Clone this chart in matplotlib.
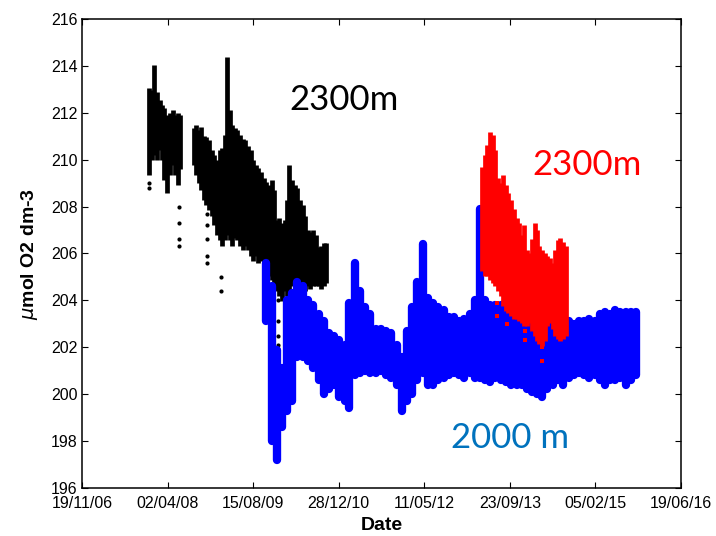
import numpy as np
import pandas as pd
import matplotlib
matplotlib.use('Agg')
import matplotlib.pyplot as plt
import matplotlib.dates as mdates

# 2300 m, first deployment: half-monthly envelope (top, bottom) in umol O2 dm-3
black_start = '2007-12-15'
black_top = [213.05, 212.97, 214.03, 212.88, 212.54, 212.32, 212.2, 211.9, 212.0, 212.1,
             211.9, 212.0, 211.9, np.nan, np.nan, np.nan, np.nan, 211.34, 211.47, 211.26,
             211.4, 211.0, 210.96, 210.83, 210.4, 210.2, 209.97, 210.4, 210.49, 211.04,
             214.38, 212.1, 211.47, 211.34, 211.26, 211.04, 210.9, 210.83, 210.6, 210.4,
             209.97, 209.76, 209.63, 209.46, 209.2, 209.03, 208.9, 209.12, 208.69, 207.41,
             207.5, 207.3, 207.41, 208.26, 209.76, 209.12, 208.9, 208.8, 208.26, 208.05,
             207.6, 206.98, 206.9, 206.98, 206.77, 206.26, 206.34, 206.43, 206.43]
black_bot = [209.33, 209.97, 210.19, 209.97, 210.4, 209.97, 209.12, 208.56, 209.33, 209.76,
             209.33, 208.9, 209.6, np.nan, np.nan, np.nan, np.nan, 209.76, 209.33, 208.99,
             208.7, 208.26, 208.05, 207.84, 207.6, 207.2, 206.77, 206.56, 206.34, 206.56,
             206.77, 206.56, 206.34, 206.64, 206.56, 206.34, 206.13, 206.34, 206.13, 205.9,
             205.7, 205.9, 205.6, 205.7, 205.5, 205.27, 205.06, 204.85, 204.6, 204.42,
             204.2, 203.99, 204.42, 204.2, 204.42, 204.6, 204.42, 204.6, 204.42, 204.6,
             204.42, 204.6, 204.5, 204.6, 204.6, 204.6, 204.5, 204.6, 204.76]
black_dot_dates = ['2007-12-15', '2007-12-15', '2008-06-08', '2008-06-08', '2008-06-08',
                   '2008-06-08', '2008-11-18', '2008-11-18', '2008-11-18', '2008-11-18',
                   '2008-11-18', '2009-02-08', '2009-02-08', '2010-01-07', '2010-01-07',
                   '2010-01-07', '2010-01-07']
black_dot_vals = [209.0, 208.8, 208.0, 207.3, 206.6, 206.3, 207.7, 207.2, 206.6, 205.9,
                  205.6, 205.0, 204.4, 204.0, 203.1, 202.5, 202.1]

# 2000 m: monthly envelope
blue_start = '2009-11-01'
blue_top = [205.6, 204.6, 201.9, 201.1, 204.0, 204.3, 204.8, 204.6, 204.0, 203.8,
            203.4, 203.1, 202.6, 202.5, 202.3, 202.1, 203.9, 205.6, 204.4, 203.7,
            203.4, 202.8, 202.8, 202.7, 202.6, 202.1, 201.6, 202.7, 203.7, 204.8,
            206.4, 204.1, 203.9, 203.7, 203.6, 203.3, 203.3, 203.1, 203.2, 203.4,
            204.0, 207.9, 204.0, 203.8, 203.8, 203.8, 204.0, 203.8, 203.6, 203.4,
            203.1, 203.2, 203.1, 203.4, 203.1, 203.2, 203.1, 203.2, 203.1, 203.0,
            203.1, 203.1, 203.2, 203.1, 203.4, 203.5, 203.4, 203.6, 203.5, 203.5,
            203.5, 203.5]
blue_bot = [203.1, 198.0, 197.2, 198.6, 199.3, 199.7, 201.6, 201.6, 201.4, 201.1,
            200.6, 200.0, 200.2, 200.4, 199.9, 199.7, 199.4, 200.8, 200.9, 201.0,
            200.9, 200.9, 201.0, 200.8, 200.7, 200.4, 199.3, 199.7, 200.0, 200.6,
            200.9, 200.4, 200.4, 200.6, 200.7, 200.8, 200.9, 200.8, 200.7, 200.9,
            200.7, 200.7, 200.6, 200.5, 200.7, 200.6, 200.5, 200.4, 200.4, 200.4,
            200.2, 200.1, 200.0, 199.9, 200.2, 200.4, 200.6, 200.4, 200.7, 200.8,
            200.9, 200.8, 200.7, 200.8, 200.6, 200.4, 200.6, 200.6, 200.7, 200.4,
            200.6, 200.8]

# 2300 m, second deployment: half-monthly envelope
red_start = '2013-04-15'
red_top = [209.68, 210.19, 210.62, 211.17, 211.04, 210.4, 209.2, 208.99, 209.33, 208.9,
           208.6, 208.26, 207.9, 207.5, 207.3, 206.77, 207.2, 206.13, 206.04, 206.6,
           207.3, 206.98, 206.34, 206.13, 206.0, 205.9, 205.8, 205.6, 206.13, 206.56,
           206.64, 206.47, 206.34]
red_bot = [205.27, 205.06, 205.06, 204.85, 204.76, 204.63, 204.42, 204.2, 203.78, 203.56,
           203.48, 203.35, 203.2, 203.2, 203.14, 203.05, 202.9, 202.9, 203.05, 202.7,
           202.5, 202.28, 202.15, 202.07, 202.28, 202.9, 203.05, 202.8, 202.5, 202.36,
           202.28, 202.36, 202.5]
red_dot_dates = ['2013-07-10', '2013-07-10', '2013-08-08', '2013-09-06', '2013-09-06',
                 '2013-12-20', '2013-12-20', '2014-03-30', '2014-03-30']
red_dot_vals = [203.9, 203.35, 204.4, 203.8, 203.0, 202.7, 202.3, 202.0, 201.4]

tick_start = '2006-11-19'
tick_step_days = 500
n_ticks = 8


def draw_band(ax, start, freq, top, bot, color, lw, cap):
    d = pd.date_range(start, periods=len(top), freq=freq)
    top = np.array(top)
    bot = np.array(bot)
    ok = ~np.isnan(top)
    lc = ax.vlines(d[ok].to_pydatetime(), bot[ok], top[ok], colors=color, linewidth=lw)
    lc.set_capstyle(cap)


fig = plt.figure(figsize=(7.16, 5.36), dpi=100)
ax = fig.add_axes([0.1145, 0.0896, 0.8366, 0.875])

draw_band(ax, black_start, 'SMS', black_top, black_bot, 'black', 3.4, 'butt')
ax.plot(pd.to_datetime(black_dot_dates), black_dot_vals, 'o', color='black', ms=3, mew=0)
draw_band(ax, blue_start, 'MS', blue_top, blue_bot, (0, 0, 1), 6.0, 'round')
draw_band(ax, red_start, 'SMS', red_top, red_bot, (1, 0, 0), 3.4, 'butt')
ax.plot(pd.to_datetime(red_dot_dates), red_dot_vals, 's', color='red', ms=3.5, mew=0)

ticks = pd.date_range(tick_start, periods=n_ticks, freq=f'{tick_step_days}D')
ax.set_xlim(ticks[0], ticks[-1])
ax.set_xticks(ticks.to_pydatetime())
ax.xaxis.set_major_formatter(mdates.DateFormatter('%d/%m/%y'))
ax.set_ylim(196, 216)
ax.set_yticks(np.arange(196, 217, 2))

for lab in ax.get_xticklabels() + ax.get_yticklabels():
    lab.set_fontfamily('Liberation Sans')
    lab.set_fontsize(11.5)
ax.tick_params(direction='in', top=True, right=True, length=4, width=0.8)
ax.tick_params(axis='x', pad=6)
ax.tick_params(axis='y', pad=3)
for s in ax.spines.values():
    s.set_linewidth(1.1)

ax.set_xlabel('Date', fontsize=14, fontweight='bold', family='Liberation Sans', labelpad=4)
ax.set_ylabel(r'$\mu$mol O2 dm-3', fontsize=14, fontweight='bold', family='Liberation Sans',
              labelpad=8)

ax.text(0.437, 0.827, '2300m', transform=ax.transAxes, fontsize=25, family='Lato',
        color='black', ha='center', va='center')
ax.text(0.843, 0.689, '2300m', transform=ax.transAxes, fontsize=25, family='Lato',
        color=(1, 0, 0), ha='center', va='center')
ax.text(0.715, 0.107, '2000 m', transform=ax.transAxes, fontsize=25, family='Lato',
        color='#0072BD', ha='center', va='center')

fig.savefig('out.png', dpi=100)
